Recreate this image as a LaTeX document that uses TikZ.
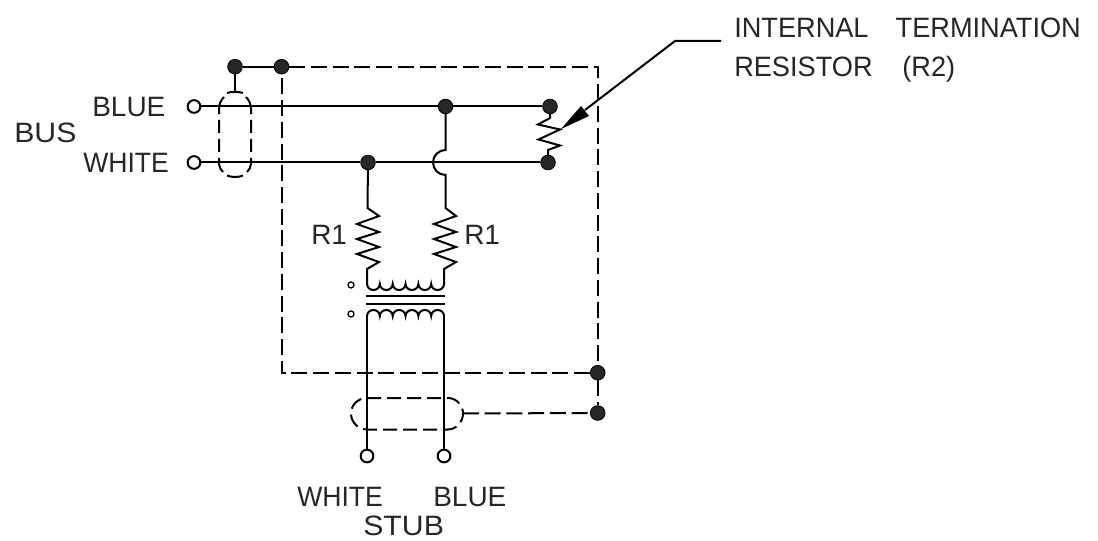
\documentclass[tikz,border=0pt]{standalone}
\usepackage{fontspec}
\setmainfont{Liberation Sans}
\tikzset{
  x=0.75pt,y=-0.75pt,
  wire/.style={line width=1.5pt,line cap=butt,line join=miter,black},
  dashline/.style={wire,dash pattern=on 12pt off 4.3pt},
  shortdash/.style={wire,dash pattern=on 10.5pt off 4.5pt},
  junction/.style={circle,fill=black!85,draw=black,line width=0.6pt,inner sep=0,minimum size=11pt},
  term/.style={circle,draw=black,fill=white,line width=1.5pt,inner sep=0,minimum size=9.5pt},
  tinyterm/.style={circle,draw=black,fill=white,line width=1pt,inner sep=0,minimum size=4.5pt},
  lbl/.style={inner sep=0,font=\fontsize{21pt}{21pt}\selectfont,text=black!85,anchor=base west},
}
\begin{document}
\begin{tikzpicture}
\useasboundingbox (0,0) rectangle (1098,541);
% nodes
\node[term] (tb) at (194,106.5) {};
\node[term] (tw) at (194,162.5) {};
\node[term] (sw) at (367,456) {};
\node[term] (sb) at (444,456) {};
\node[junction] (j1) at (235,66.7) {};
\node[junction] (j2) at (281.5,66.7) {};
\node[junction] (j3) at (445.5,106.5) {};
\node[junction] (j4) at (550,106.5) {};
\node[junction] (j5) at (368,162.5) {};
\node[junction] (j6) at (548,162.5) {};
\node[junction] (j7) at (597.7,372.7) {};
\node[junction] (j8) at (597.7,413) {};
\node[tinyterm] (d1) at (351,285) {};
\node[tinyterm] (d2) at (351,314) {};
\coordinate (cb) at (235,92);
\coordinate (ce) at (463,413.5);
% bus wires
\draw[wire] (tb) -- (j3);
\draw[wire] (j3) -- (j4);
\draw[wire] (tw) -- (j5);
\draw[wire] (j5) -- (j6);
\draw[wire] (j1) -- (j2);
\draw[wire] (j1) -- (cb);
% dashed shield box
\draw[dashline] (j2) -- (597.7,66.7) -- (j7);
\draw[dashline] (j7) -- (281.5,372.7) -- (j2);
\draw[dashline] (j7) -- (j8);
\draw[dashline] (ce) -- (j8);
% bus shield oval
\draw[wire] (227,93) .. controls (231,91.5) and (239,91.5) .. (243,93);
\draw[wire] (224,97) .. controls (221,100) and (219,104) .. (219,109) -- (219,114);
\draw[wire] (246,97) .. controls (249,100) and (251,104) .. (251,109) -- (251,114);
\draw[wire] (219,120) -- (219,133) (219,139) -- (219,152) (219,158) -- (219,164) .. controls (219,167) and (221,170) .. (223,172);
\draw[wire] (251,120) -- (251,133) (251,139) -- (251,152) (251,158) -- (251,164) .. controls (251,167) and (249,170) .. (247,172);
\draw[wire] (227,175.5) .. controls (231,177.5) and (239,177.5) .. (243,175.5);
% stub shield oval
\draw[shortdash] (367,398) -- (448,398) .. controls (456,398) and (463,405) .. (463,413.5) .. controls (463,422) and (456,429.5) .. (448,429.5) -- (367,429.5) .. controls (358,429.5) and (351,422) .. (351,413.5) .. controls (351,405) and (358,398) .. (367,398);
% crossover and right R1
\draw[wire] (j3) -- (445.5,150) arc[start angle=270,end angle=90,radius=12.5] -- (445.5,208)
  -- (456,216) -- (434,224) -- (456,232) -- (434,239) -- (456,247) -- (434,254) -- (456,262) -- (444,269) -- (444,285);
% left R1
\draw[wire] (j5) -- (367.5,208) -- (379,216) -- (357,224) -- (379,232) -- (357,239) -- (379,247) -- (357,254) -- (379,262) -- (367,269) -- (367,285);
% R2
\draw[wire] (j4) -- (550,118) -- (538,124.5) -- (560,129.5) -- (538.5,139.5) -- (560,145.5) -- (548,150) -- (j6);
% transformer
\draw[wire] (367,284) arc[start angle=180,end angle=0,x radius=6.42,y radius=6]
 arc[start angle=180,end angle=0,x radius=6.42,y radius=6]
 arc[start angle=180,end angle=0,x radius=6.42,y radius=6]
 arc[start angle=180,end angle=0,x radius=6.42,y radius=6]
 arc[start angle=180,end angle=0,x radius=6.42,y radius=6]
 arc[start angle=180,end angle=0,x radius=6.42,y radius=6];
\draw[wire] (366,295.7) -- (445,295.7);
\draw[wire] (366,303.7) -- (445,303.7);
\draw[wire] (367,316) arc[start angle=180,end angle=360,x radius=6.42,y radius=6]
 arc[start angle=180,end angle=360,x radius=6.42,y radius=6]
 arc[start angle=180,end angle=360,x radius=6.42,y radius=6]
 arc[start angle=180,end angle=360,x radius=6.42,y radius=6]
 arc[start angle=180,end angle=360,x radius=6.42,y radius=6]
 arc[start angle=180,end angle=360,x radius=6.42,y radius=6];
\draw[wire] (367,316) -- (sw);
\draw[wire] (444,316) -- (sb);
% leader
\coordinate (tip) at (561,129);
\coordinate (ldr) at (675,41);
\coordinate (ldre) at (721,41);
\draw[wire] (ldre) -- (ldr) -- (585,110);
\fill[black] (tip) -- (581,106) -- (589,116) -- cycle;
% labels
\node[lbl] (l1) at (92,116.7) {BLUE};
\node[lbl,xscale=.95] (l2) at (83,173) {WHITE};
\node[lbl,xscale=1.08] (l3) at (14,142.7) {BUS};
\node[lbl] (l4) at (311,245) {R1};
\node[lbl] (l5) at (464,245) {R1};
\node[lbl,xscale=.97] (l6) at (734,38) {INTERNAL\hspace{21pt}TERMINATION};
\node[lbl,xscale=.97] (l7) at (734,76.7) {RESISTOR\hspace{23pt}(R2)};
\node[lbl,xscale=.95] (l8) at (297,506.7) {WHITE};
\node[lbl] (l9) at (433,506.7) {BLUE};
\node[lbl,xscale=1.08] (l10) at (363,535) {STUB};
\end{tikzpicture}
\end{document}
